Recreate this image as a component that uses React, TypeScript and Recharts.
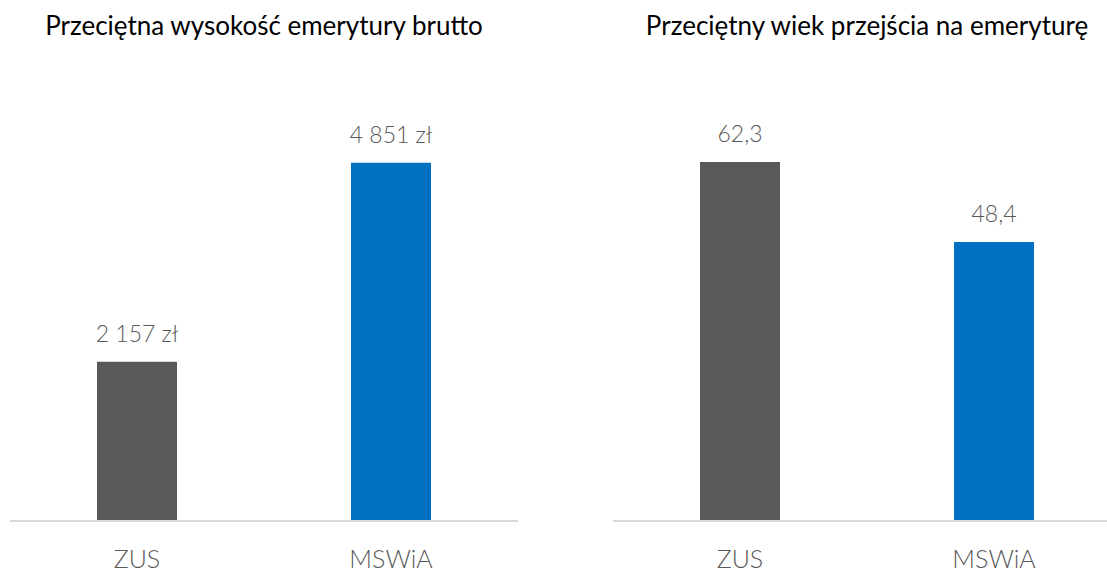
import React from 'react'
import { BarChart, Bar, XAxis, YAxis, Cell, LabelList } from 'recharts'

const categories = ['ZUS', 'MSWiA']
const pensionValues = [2157, 4851]
const ageValues = [62.3, 48.4]
const barColors = ['#595959', '#0070C0']
const titles = ['Przeciętna wysokość emerytury brutto', 'Przeciętny wiek przejścia na emeryturę']

const FONT = 'Lato, "Open Sans", sans-serif'

const formatPln = (v: number) => v.toLocaleString('en-US').replace(/,/g, ' ') + ' zł'
const formatAge = (v: number) => v.toFixed(1).replace('.', ',')

interface PanelProps {
  title: string
  values: number[]
  left: number
  domainMax: number
  marginTop: number
  format: (v: number) => string
}

const Panel: React.FC<PanelProps> = ({ title, values, left, domainMax, marginTop, format }) => {
  const data = categories.map((name, i) => ({ name, value: values[i] }))
  return (
    <div style={{ position: 'absolute', left, top: 0, width: 508, height: 569 }}>
      <div
        style={{
          position: 'absolute',
          left: -100,
          right: -100,
          top: 9,
          textAlign: 'center',
          fontFamily: FONT,
          fontSize: 26,
          color: '#000',
          whiteSpace: 'nowrap',
        }}
      >
        {title}
      </div>
      <BarChart
        width={508}
        height={569}
        data={data}
        margin={{ top: marginTop, right: 0, bottom: 0, left: 0 }}
      >
        <XAxis
          dataKey="name"
          height={48}
          tickLine={false}
          axisLine={{ stroke: '#D9D9D9', strokeWidth: 2 }}
          tickMargin={23}
          tick={{ fill: '#595959', fontSize: 25, fontFamily: FONT, fontWeight: 300 }}
          interval={0}
        />
        <YAxis hide domain={[0, domainMax]} />
        <Bar dataKey="value" barSize={80} isAnimationActive={false}>
          {data.map((d, i) => (
            <Cell key={d.name} fill={barColors[i]} />
          ))}
          <LabelList
            dataKey="value"
            position="top"
            offset={20}
            formatter={(v: any) => format(Number(v))}
            style={{ fill: '#595959', fontSize: 23, fontFamily: FONT, fontWeight: 300 }}
          />
        </Bar>
      </BarChart>
    </div>
  )
}

export default function App() {
  return (
    <div
      style={{
        position: 'fixed',
        left: 0,
        top: 0,
        width: 1107,
        height: 569,
        overflow: 'hidden',
        background: '#fff',
      }}
    >
      <Panel title={titles[0]} values={pensionValues} left={10} domainMax={6000} marginTop={78} format={formatPln} />
      <Panel title={titles[1]} values={ageValues} left={613} domainMax={80} marginTop={60} format={formatAge} />
    </div>
  )
}
